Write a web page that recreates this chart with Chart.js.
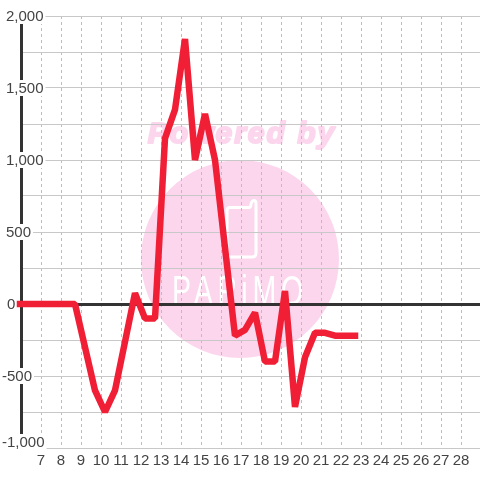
<!DOCTYPE html>
<html>
<head>
<meta charset="utf-8">
<style>
html, body { margin: 0; padding: 0; background: #fff; overflow: hidden; }
#wrap { width: 480px; height: 480px; }
</style>
<script src="https://cdn.jsdelivr.net/npm/chart.js@4"></script>
</head>
<body>
<div id="wrap"><canvas id="myChart" width="480" height="480"></canvas></div>
<script>
const xValues = [5.95, 8.7, 9.7, 10.2, 10.7, 11.7, 12.2, 12.7, 13.2, 13.7, 14.2, 14.7, 15.2, 15.7, 16.7, 17.2, 17.7, 18.2, 18.7, 19.2, 19.7, 20.2, 20.7, 21.2, 21.7, 22.2, 22.7];
const yValues = [0, 0, -600, -750, -600, 75, -100, -100, 1150, 1350, 1840, 1000, 1320, 1000, -220, -180, -60, -400, -400, 90, -715, -370, -200, -200, -220, -220, -220];
const xTicks = [7, 8, 9, 10, 11, 12, 13, 14, 15, 16, 17, 18, 19, 20, 21, 22, 23, 24, 25, 26, 27, 28];
const yGrid = [-1000, -750, -500, -250, 0, 250, 500, 750, 1000, 1250, 1500, 1750, 2000];
const yLabels = [2000, 1500, 1000, 500, 0, -500, -1000];

// watermark sits under the grid
const watermark = {
    id: "watermark",
    beforeDraw(chart) {
        const c = chart.ctx;
        c.save();
        c.fillStyle = "#fcd6ed";
        c.strokeStyle = "#fcd6ed";
        c.beginPath();
        c.arc(240, 259, 99, 0, Math.PI * 2);
        c.fill();

        c.font = "italic bold 30px 'Liberation Sans'";
        c.textAlign = "center";
        c.textBaseline = "middle";
        c.letterSpacing = "2px";
        c.lineWidth = 2;
        c.lineJoin = "round";
        c.fillText("Powered by", 242, 135);
        c.strokeText("Powered by", 242, 135);
        c.letterSpacing = "0px";

        c.strokeStyle = "#fff";
        c.lineWidth = 3;
        c.beginPath();
        c.moveTo(230, 207.5);
        c.lineTo(249, 207.5);
        c.quadraticCurveTo(251, 207.5, 251, 204);
        c.quadraticCurveTo(252, 200.5, 254, 200.5);
        c.quadraticCurveTo(256, 200.5, 256, 204);
        c.lineTo(256, 253);
        c.quadraticCurveTo(256, 257, 252, 257);
        c.lineTo(230, 257);
        c.quadraticCurveTo(227, 257, 227, 253);
        c.lineTo(227, 211);
        c.quadraticCurveTo(227, 207.5, 230, 207.5);
        c.stroke();

        c.fillStyle = "#fff";
        c.translate(240, 305);
        c.scale(0.68, 1);
        c.font = "42px 'Liberation Sans'";
        c.textBaseline = "alphabetic";
        c.letterSpacing = "7px";
        c.fillText("PAPiMO", 0, 0);
        c.restore();
    }
};

// y labels have a white box that cuts the axis and grid
const yTickLabels = {
    id: "yTickLabels",
    beforeDatasetsDraw(chart) {
        const c = chart.ctx;
        const scale = chart.scales.y;
        c.save();
        c.font = "15px 'Liberation Sans'";
        c.textAlign = "left";
        c.textBaseline = "middle";
        yLabels.forEach(function(v) {
            const text = v.toLocaleString("en-US");
            let y = scale.getPixelForValue(v);
            if (v === -1000) y -= 6;
            const left = v < 0 ? 2 : (v === 0 ? 7 : 6);
            const w = c.measureText(text).width;
            c.fillStyle = "#fff";
            c.fillRect(left - 2, y - 8, w + 4, 16);
            c.fillStyle = "#444";
            c.fillText(text, left, y + 0.5);
        });
        c.restore();
    }
};

new Chart(document.getElementById("myChart"), {
    type: "line",
    data: {
        datasets: [{
            data: xValues.map(function(x, i) { return { x: x, y: yValues[i] }; }),
            borderColor: "#f01f36",
            borderWidth: 6.5,
            borderCapStyle: "square",
            borderJoinStyle: "bevel",
            pointRadius: 0,
            tension: 0,
            clip: false
        }]
    },
    options: {
        responsive: false,
        animation: false,
        layout: { padding: { left: 0, right: 0, top: 16, bottom: 0 } },
        plugins: { legend: { display: false }, tooltip: { enabled: false } },
        scales: {
            x: {
                type: "linear",
                min: 6,
                max: 28.95,
                afterBuildTicks(scale) {
                    scale.ticks = xTicks.map(function(v) { return { value: v }; });
                },
                afterFit(scale) { scale.height = 32; },
                grid: { color: "#bdbdbd", lineWidth: 1, drawTicks: false, tickLength: 0 },
                border: { display: false, dash: [3, 3] },
                ticks: {
                    autoSkip: false,
                    maxRotation: 0,
                    padding: 4,
                    color: "#444",
                    font: { family: "'Liberation Sans'", size: 15 },
                    callback(v) { return String(v); }
                }
            },
            y: {
                min: -1000,
                max: 2000,
                afterFit(scale) { scale.width = 21; },
                afterBuildTicks(scale) {
                    scale.ticks = yGrid.map(function(v) { return { value: v }; });
                },
                grid: {
                    color(ctx) { return ctx.tick.value === 0 ? "#333" : "#c8c8c8"; },
                    lineWidth(ctx) { return ctx.tick.value === 0 ? 3 : 1; },
                    drawTicks: false
                },
                border: { display: true, color: "#333", width: 3 },
                ticks: { display: false }
            }
        }
    },
    plugins: [watermark, yTickLabels]
});
</script>
</body>
</html>
